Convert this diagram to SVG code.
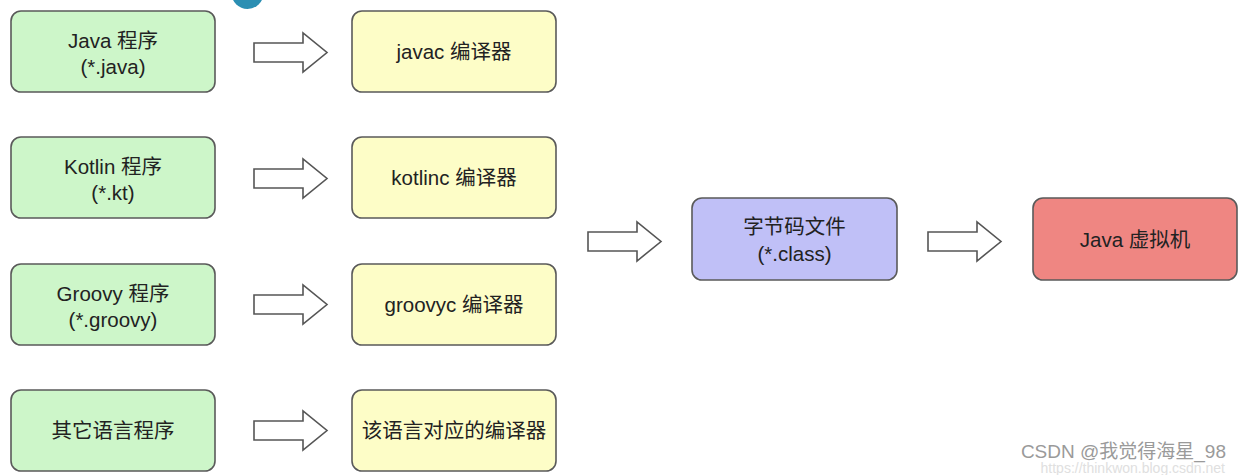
<svg xmlns="http://www.w3.org/2000/svg" width="1242" height="475" viewBox="0 0 1242 475">
  <style>
    .box { stroke: #5a5a5a; stroke-width: 1.6; }
    .src { fill: #cdf6c9; }
    .cmp { fill: #fdfdc7; }
    .byte { fill: #c0c0f7; }
    .jvm { fill: #ef8682; }
    .lbl { font-family: "Liberation Sans", "Noto Sans CJK SC", sans-serif; font-size: 20.5px; fill: #222; text-anchor: middle; }
    .arr { fill: #ffffff; stroke: #555; stroke-width: 1.6; stroke-linejoin: miter; }
    .wm { font-family: "Liberation Sans", "Noto Sans CJK SC", sans-serif; font-size: 19px; fill: #9a9a9a; }
    .url { font-family: "Liberation Sans", sans-serif; font-size: 14px; fill: #e0e0e0; }
  </style>
  <defs>
    <path id="fat" d="M0,-9.5 H49 V-19.5 L73,0 L49,19.5 V9.5 H0 Z"/>
  </defs>
  <rect width="1242" height="475" fill="#ffffff"/>
  <circle cx="247.5" cy="-7" r="16" fill="#2b8fb3"/>

  <g id="java-src"><rect class="box src" x="11" y="11" width="204" height="81" rx="10"/><text class="lbl" x="113" y="48">Java 程序</text><text class="lbl" x="113" y="74">(*.java)</text></g>
  <g id="kotlin-src"><rect class="box src" x="11" y="137" width="204" height="81" rx="10"/><text class="lbl" x="113" y="174">Kotlin 程序</text><text class="lbl" x="113" y="200">(*.kt)</text></g>
  <g id="groovy-src"><rect class="box src" x="11" y="264" width="204" height="81" rx="10"/><text class="lbl" x="113" y="301">Groovy 程序</text><text class="lbl" x="113" y="327">(*.groovy)</text></g>
  <g id="other-src"><rect class="box src" x="11" y="390" width="204" height="81" rx="10"/><text class="lbl" x="113" y="438">其它语言程序</text></g>

  <g id="javac"><rect class="box cmp" x="352" y="11" width="204" height="81" rx="10"/><text class="lbl" x="454" y="59">javac 编译器</text></g>
  <g id="kotlinc"><rect class="box cmp" x="352" y="137" width="204" height="81" rx="10"/><text class="lbl" x="454" y="185">kotlinc 编译器</text></g>
  <g id="groovyc"><rect class="box cmp" x="352" y="264" width="204" height="81" rx="10"/><text class="lbl" x="454" y="312">groovyc 编译器</text></g>
  <g id="other-cmp"><rect class="box cmp" x="352" y="390" width="204" height="81" rx="10"/><text class="lbl" x="454" y="438">该语言对应的编译器</text></g>

  <g id="bytecode"><rect class="box byte" x="692" y="198" width="205" height="82" rx="10"/><text class="lbl" x="794.5" y="234">字节码文件</text><text class="lbl" x="794.5" y="261">(*.class)</text></g>
  <g id="jvm"><rect class="box jvm" x="1033" y="198" width="204" height="82" rx="10"/><text class="lbl" x="1135" y="247">Java 虚拟机</text></g>

  <g id="connectors">
    <use href="#fat" class="arr" transform="translate(254,52.5)"/>
    <use href="#fat" class="arr" transform="translate(254,178.5)"/>
    <use href="#fat" class="arr" transform="translate(254,304.5)"/>
    <use href="#fat" class="arr" transform="translate(254,430.5)"/>
    <use href="#fat" class="arr" transform="translate(588,241.5)"/>
    <use href="#fat" class="arr" transform="translate(928,241.5)"/>
  </g>

  <text class="url" x="1225" y="473" text-anchor="end">https://thinkwon.blog.csdn.net</text>
  <text class="wm" x="1226" y="458" text-anchor="end">CSDN @我觉得海星_98</text>
</svg>
